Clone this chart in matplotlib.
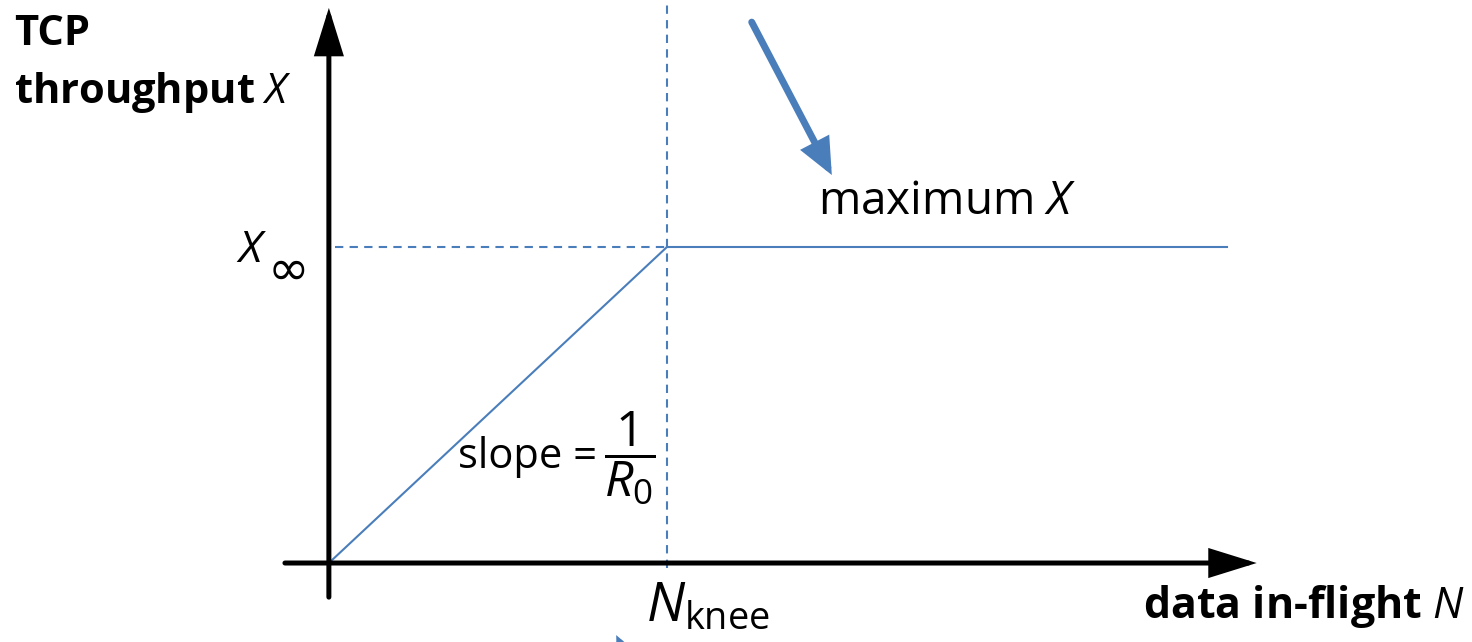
import matplotlib
matplotlib.use("Agg")
import matplotlib.pyplot as plt

# -----------------------------
# Fonts
# -----------------------------
plt.rcParams['font.family'] = ['Open Sans', 'DejaVu Sans']
plt.rcParams['mathtext.fontset'] = 'custom'
plt.rcParams['mathtext.rm'] = 'Open Sans'
plt.rcParams['mathtext.it'] = 'Open Sans:italic'
plt.rcParams['mathtext.bf'] = 'Open Sans:bold'

# -----------------------------
# Data (N in units of N_knee, X in units of X_inf)
# -----------------------------
n_knee = 1.0
x_inf = 1.0
n_rise = [0.0, n_knee]
x_rise = [0.0, x_inf]
n_flat = [n_knee, 2.657]
x_flat = [x_inf, x_inf]

# axis extents
n_axis = [-0.13, 2.745]
x_axis = [-0.108, 1.757]

# callout arrows (tail, head)
top_arrow = [(1.251, 1.712), (1.488, 1.228)]
bottom_arrow = [(0.98, -0.52), (0.85, -0.228)]

blue = '#4a7ebb'

# -----------------------------
# Plot
# -----------------------------
fig = plt.figure(figsize=(14.72, 6.42), dpi=100)
ax = fig.add_axes([0, 0, 1, 1])
ax.set_xlim(-0.973, 3.382)
ax.set_ylim(-0.25, 1.782)
ax.axis('off')

# axes with arrows
axis_style = dict(arrowstyle='-|>,head_length=1.35,head_width=0.42',
                  lw=3.6, color='black', mutation_scale=20,
                  shrinkA=0, shrinkB=0, joinstyle='miter')
ax.annotate('', xy=(n_axis[1], 0), xytext=(n_axis[0], 0), arrowprops=axis_style)
ax.annotate('', xy=(0, x_axis[1]), xytext=(0, x_axis[0]), arrowprops=axis_style)

# guide lines
ax.plot([n_knee, n_knee], [-0.015, 1.9], color=blue, lw=1.5,
        linestyle=(0, (4, 3)), clip_on=False)
ax.plot([0.018, n_knee], [x_inf, x_inf], color=blue, lw=1.5,
        linestyle=(0, (4, 3)))

# throughput curve
ax.plot(n_rise, x_rise, color=blue, lw=1.5)
ax.plot(n_flat, x_flat, color=blue, lw=1.5)

# callout arrows
for tail, head in [top_arrow, bottom_arrow]:
    ax.annotate('', xy=head, xytext=tail,
                arrowprops=dict(arrowstyle='-|>,head_length=0.9,head_width=0.4',
                                lw=5, color=blue, mutation_scale=20,
                                shrinkA=0, shrinkB=0, joinstyle='miter'),
                annotation_clip=False)

# labels
ax.text(-0.932, 1.738, 'TCP\nthroughput $\\mathit{X}$', fontsize=30,
        fontweight='bold', ha='left', va='top', linespacing=1.45)
ax.text(-0.183, 0.953, '$X$', fontsize=32, ha='right', va='baseline')
ax.text(-0.182, 0.925, '\u221e', fontsize=36, ha='left', va='center',
        family='DejaVu Sans')
ax.text(1.828, 1.142, 'maximum $X$', fontsize=33, ha='center', va='center')
ax.text(0.382, 0.335, 'slope = ', fontsize=30, ha='left', va='center')
ax.text(0.892, 0.332, '$\\dfrac{1}{R_0}$', fontsize=36, ha='center', va='center')
ax.text(1.12, -0.14, '$N_{\\mathrm{knee}}$', fontsize=39, ha='center', va='center')
ax.text(3.361, -0.139, 'data in-flight $\\mathbf{\\mathit{N}}$', fontsize=31,
        fontweight='bold', ha='right', va='center')

fig.savefig('out.png', dpi=100)
